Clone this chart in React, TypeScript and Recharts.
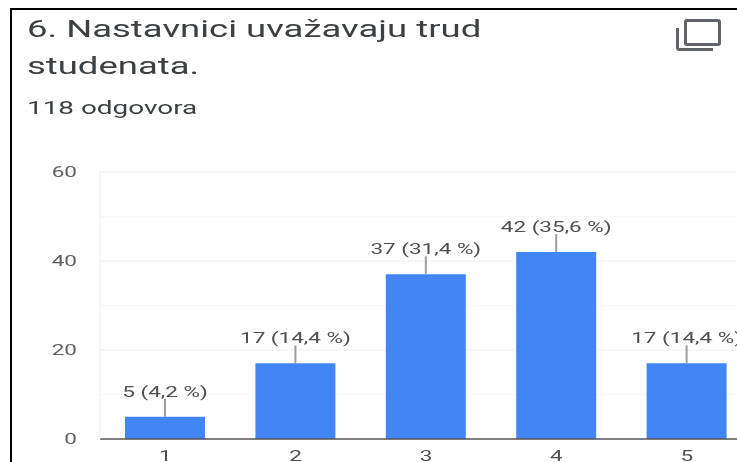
import { BarChart, Bar, XAxis, YAxis, CartesianGrid, LabelList } from "recharts";

const answers = ["1", "2", "3", "4", "5"];
const counts = [5, 17, 37, 42, 17];
const barLabels = ["5 (4,2 %)", "17 (14,4 %)", "37 (31,4 %)", "42 (35,6 %)", "17 (14,4 %)"];
const yTicks = [0, 20, 40, 60];
const minorLines = [10, 30, 50];
const majorLines = [20, 40, 60];

const chartData = answers.map((a, i) => ({ answer: a, count: counts[i], label: barLabels[i] }));

const font = "Roboto, sans-serif";
// the source screenshot is stretched sideways, so the text is too
const stretch = 1.5;

function BarLabel(props: any) {
  const { x, y, width, index } = props;
  const cx = x + width / 2;
  return (
    <g>
      <line x1={cx} x2={cx} y1={y - 18} y2={y} stroke="#9e9e9e" strokeWidth={2} />
      <text
        transform={`translate(${cx},${y - 20}) scale(${stretch},1)`}
        textAnchor="middle"
        fontFamily={font}
        fontSize={15}
        fill="#4f4f4f"
      >
        {barLabels[index]}
      </text>
    </g>
  );
}

function XTick(props: any) {
  const { x, y, payload } = props;
  return (
    <text
      transform={`translate(${x},${y + 14}) scale(${stretch},1)`}
      textAnchor="middle"
      fontFamily={font}
      fontSize={15}
      fill="#4f4f4f"
    >
      {payload.value}
    </text>
  );
}

function YTick(props: any) {
  const { y, payload } = props;
  return (
    <text
      transform={`translate(77,${y + 5}) scale(${stretch},1)`}
      textAnchor="end"
      fontFamily={font}
      fontSize={15}
      fill="#5f5f5f"
    >
      {payload.value}
    </text>
  );
}

export default function App() {
  return (
    <div
      style={{
        position: "absolute",
        left: 0,
        top: 0,
        width: 737,
        height: 462,
        overflow: "hidden",
        background: "#fff",
      }}
    >
      <div
        style={{
          position: "absolute",
          left: 10,
          top: 8,
          width: 760,
          height: 480,
          borderLeft: "2px solid #000",
          borderTop: "2px solid #000",
        }}
      />
      <div style={{ position: "absolute", left: 0, top: 0, width: 737, height: 462, filter: "blur(0.5px)" }}>
        <div
          style={{
            position: "absolute",
            left: 27,
            top: 11,
            width: 480,
            fontFamily: font,
            fontSize: 24,
            lineHeight: "37px",
            whiteSpace: "nowrap",
            color: "#3c4043",
            transform: "scaleX(1.52)",
            transformOrigin: "left top",
          }}
        >
          6. Nastavnici uvažavaju trud
          <br />
          studenata.
        </div>
        <div
          style={{
            position: "absolute",
            left: 27,
            top: 97,
            fontFamily: font,
            fontSize: 18,
            whiteSpace: "nowrap",
            color: "#3c4043",
            transform: "scaleX(1.55)",
            transformOrigin: "left top",
          }}
        >
          118 odgovora
        </div>
        <svg width={50} height={40} style={{ position: "absolute", left: 674, top: 16 }}>
          <rect x={11.5} y={4.5} width={34} height={24} rx={1.5} fill="none" stroke="#5f6368" strokeWidth={3} />
          <path d="M3.5 12 V31.5 Q3.5 33.5 5.5 33.5 H39" fill="none" stroke="#5f6368" strokeWidth={3} />
        </svg>
        <div style={{ position: "absolute", left: 0, top: 0 }}>
          <BarChart
            width={800}
            height={462}
            data={chartData}
            margin={{ top: 172, right: 48, bottom: 0, left: 0 }}
          >
            <CartesianGrid vertical={false} horizontalValues={minorLines} stroke="#f7f7f7" />
            <CartesianGrid vertical={false} horizontalValues={majorLines} stroke="#efefef" />
            <XAxis
              dataKey="answer"
              height={23}
              tickLine={false}
              axisLine={{ stroke: "#555555", strokeWidth: 1.5 }}
              tick={XTick}
            />
            <YAxis
              width={100}
              domain={[0, 60]}
              ticks={yTicks}
              tickLine={false}
              axisLine={{ stroke: "#efefef" }}
              tick={YTick}
            />
            <Bar dataKey="count" fill="#4285f4" barSize={80} isAnimationActive={false}>
              <LabelList dataKey="label" content={BarLabel} />
            </Bar>
          </BarChart>
        </div>
      </div>
    </div>
  );
}
